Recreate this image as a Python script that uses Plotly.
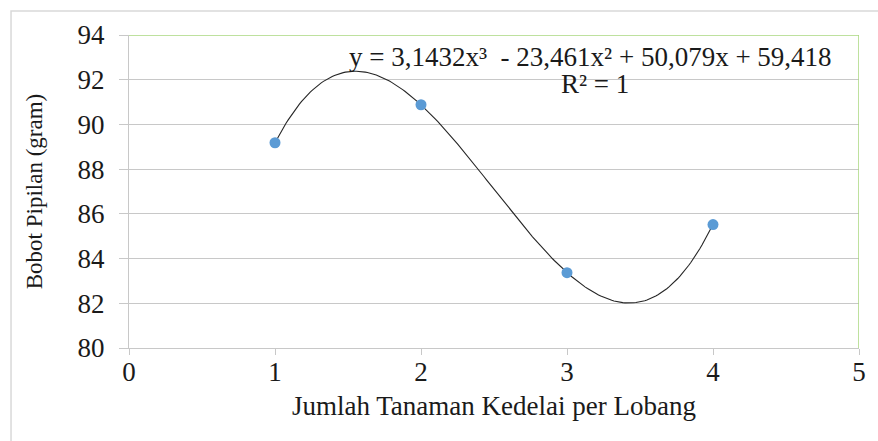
import numpy as np
import plotly.graph_objects as go

# Observed yield per planting density
jumlah_tanaman = [1, 2, 3, 4]
bobot_pipilan = [89.18, 90.88, 83.37, 85.52]

# Cubic trendline coefficients (highest power first)
koefisien = [3.1432, -23.461, 50.079, 59.418]
persamaan = "y = 3,1432x³  - 23,461x² + 50,079x + 59,418"
r_kuadrat = "R² = 1"

x_ticks = [0, 1, 2, 3, 4, 5]
y_ticks = [80, 82, 84, 86, 88, 90, 92, 94]

serif = "Liberation Serif, Times New Roman, serif"
grid_gray = "#c8c8c8"
green = "#a9d77e"

x_trend = np.linspace(min(jumlah_tanaman), max(jumlah_tanaman), 200)
y_trend = np.polyval(koefisien, x_trend)

fig = go.Figure()
fig.add_trace(go.Scatter(
    x=x_trend, y=y_trend, mode="lines",
    line=dict(color="#262626", width=1.1), hoverinfo="skip", showlegend=False,
))
fig.add_trace(go.Scatter(
    x=jumlah_tanaman, y=bobot_pipilan, mode="markers",
    marker=dict(color="#5b9bd5", size=11), showlegend=False,
))

fig.update_layout(
    width=878, height=441,
    margin=dict(l=129, r=19, t=35, b=93),
    paper_bgcolor="white", plot_bgcolor="white",
    font=dict(family=serif, size=27, color="#1a1a1a"),
    xaxis=dict(
        range=[0, 5], tickvals=x_ticks, showgrid=False, zeroline=False,
        showline=True, linecolor=grid_gray, linewidth=1.3,
        ticks="outside", ticklen=6, tickcolor=grid_gray,
        ticklabelstandoff=-7,
        title=dict(text="Jumlah Tanaman Kedelai per Lobang", standoff=10,
                   font=dict(size=27)),
    ),
    yaxis=dict(
        range=[80, 94], tickvals=y_ticks, showgrid=True, gridcolor=grid_gray,
        gridwidth=1.3, zeroline=False,
        showline=True, linecolor=grid_gray, linewidth=1.3,
        ticks="outside", ticklen=9, tickcolor=grid_gray,
        ticklabelstandoff=9,
        title=dict(text="Bobot Pipilan (gram)", standoff=28, font=dict(size=23)),
    ),
    shapes=[
        # outer chart frame
        dict(type="rect", xref="paper", yref="paper",
             x0=-0.1616, x1=1.2, y0=-0.6, y1=1.077,
             line=dict(color="#d9d9d9", width=1.5), layer="below"),
        # green top and right border of the plot area
        dict(type="line", xref="x", yref="y", x0=0, x1=5, y0=94, y1=94,
             line=dict(color=green, width=1.5)),
        dict(type="line", xref="x", yref="y", x0=5, x1=5, y0=80, y1=94,
             line=dict(color=green, width=1.5)),
    ],
    annotations=[
        dict(x=3.16, y=93.0, xref="x", yref="y", text=persamaan,
             showarrow=False, font=dict(size=27), xanchor="center", yanchor="middle"),
        dict(x=3.19, y=91.82, xref="x", yref="y", text=r_kuadrat,
             showarrow=False, font=dict(size=27), xanchor="center", yanchor="middle"),
    ],
)

fig.write_html("out.html")
